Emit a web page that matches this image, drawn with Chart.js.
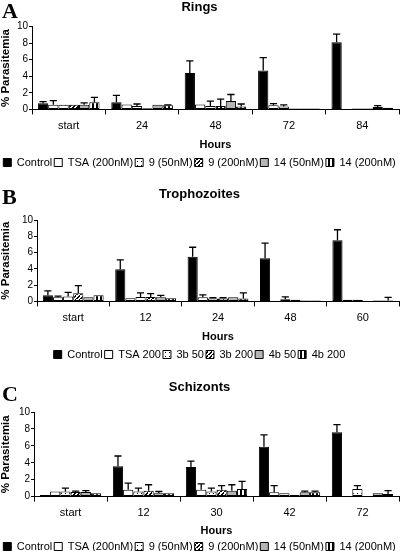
<!DOCTYPE html>
<html>
<head>
<meta charset="utf-8">
<title>Parasitemia</title>
<script src="https://cdn.jsdelivr.net/npm/chart.js@4.4.0/dist/chart.umd.min.js"></script>
<style>
  html, body { margin: 0; padding: 0; background: #fff; overflow: hidden; }
  #wrap { position: relative; width: 400px; height: 551px; }
  .panel { position: absolute; left: 0; width: 400px; }
  .letter { position: absolute; left: 2px; font-family: "Liberation Serif", "Times New Roman", serif;
            font-weight: bold; font-size: 22px; line-height: 1; color: #000; }
</style>
</head>
<body>
<div id="wrap">
  <div class="panel" style="top:0px"><canvas id="chartA" width="400" height="178"></canvas></div>
  <div class="panel" style="top:187px"><canvas id="chartB" width="400" height="183"></canvas></div>
  <div class="panel" style="top:380px"><canvas id="chartC" width="400" height="182"></canvas></div>
  <div class="letter" style="top:0px">A</div>
  <div class="letter" style="top:186px">B</div>
  <div class="letter" style="top:383px">C</div>
</div>
<script>
// --- Panel A: Rings ---
const ringHours = ['start', '24', '48', '72', '84'];
const ringNames = ['Control', 'TSA (200nM)', '9 (50nM)', '9 (200nM)', '14 (50nM)', '14 (200nM)'];
const ringControl = [0.75, 0.85, 4.4, 4.7, 8.1];
const ringTSA     = [0.55, 0.6, 0.6, 0.5, 0.05];
const ring9lo     = [0.55, 0.4, 0.4, 0.35, 0.1];
const ring9hi     = [0.55, 0.15, 0.4, 0.1, 0.1];
const ring14lo    = [0.55, 0.55, 1.0, 0.1, 0.3];
const ring14hi    = [0.85, 0.5, 0.35, 0.1, 0.2];
const ringControlErr = [0.2, 0.85, 1.45, 1.55, 1.0];
const ringTSAErr     = [0.5, 0, 0, 0.2, 0];
const ring9loErr     = [0, 0.25, 0.6, 0.2, 0];
const ring9hiErr     = [0, 0, 0.85, 0, 0];
const ring14loErr    = [0.25, 0, 0.8, 0, 0.15];
const ring14hiErr    = [0.6, 0.05, 0.3, 0, 0];

// --- Panel B: Trophozoites ---
const trophHours = ['start', '12', '24', '48', '60'];
const trophNames = ['Control', 'TSA 200', '3b 50', '3b 200', '4b 50', '4b 200'];
const trophControl = [0.75, 3.95, 5.5, 5.3, 7.5];
const trophTSA     = [0.5, 0.4, 0.5, 0.05, 0.2];
const troph3blo    = [0.6, 0.55, 0.35, 0.25, 0.2];
const troph3bhi    = [1.0, 0.55, 0.35, 0.2, 0.05];
const troph4blo    = [0.5, 0.5, 0.5, 0.1, 0.1];
const troph4bhi    = [0.75, 0.4, 0.35, 0.1, 0.1];
const trophControlErr = [0.55, 1.15, 1.15, 1.85, 1.3];
const trophTSAErr     = [0.15, 0, 0.3, 0, 0];
const troph3bloErr    = [0.5, 0.5, 0.1, 0.3, 0];
const troph3bhiErr    = [0.95, 0.4, 0.1, 0, 0];
const troph4bloErr    = [0, 0.25, 0, 0, 0];
const troph4bhiErr    = [0, 0, 0.7, 0, 0.4];

// --- Panel C: Schizonts ---
const schizHours = ['start', '12', '30', '42', '72'];
const schizNames = ['Control', 'TSA (200nM)', '9 (50nM)', '9 (200nM)', '14 (50nM)', '14 (200nM)'];
const schizControl = [0.2, 3.6, 3.5, 5.9, 7.6];
const schizTSA     = [0.6, 0.8, 0.8, 0.5, 0.05];
const schiz9lo     = [0.6, 0.6, 0.6, 0.4, 0.9];
const schiz9hi     = [0.55, 0.7, 0.8, 0.2, 0.05];
const schiz14lo    = [0.55, 0.4, 0.7, 0.5, 0.4];
const schiz14hi    = [0.4, 0.4, 0.9, 0.5, 0.3];
const schizControlErr = [0, 1.2, 0.7, 1.4, 0.9];
const schizTSAErr     = [0, 0.8, 0.7, 0.8, 0];
const schiz9loErr     = [0.4, 0.4, 0.4, 0, 0.4];
const schiz9hiErr     = [0.1, 0.7, 0.5, 0, 0];
const schiz14loErr    = [0.15, 0.2, 0.7, 0.15, 0];
const schiz14hiErr    = [0, 0, 0.9, 0.15, 0.4];

Chart.defaults.font.family = '"Liberation Sans", Arial, sans-serif';
Chart.defaults.color = '#000';
Chart.defaults.animation = false;

function makePattern(kind) {
  const c = document.createElement('canvas');
  c.width = 4; c.height = 4;
  const g = c.getContext('2d');
  g.fillStyle = '#fff';
  g.fillRect(0, 0, 4, 4);
  g.fillStyle = '#000';
  if (kind === 'dots') {
    g.fillRect(1, 1, 1, 1);
  } else if (kind === 'diag') {
    for (let i = 0; i < 4; i++) g.fillRect(i, 3 - i, 2, 1);
  } else if (kind === 'vert') {
    g.fillRect(0, 0, 2, 4);
  }
  return g.createPattern(c, 'repeat');
}

const fills = ['#000', '#fff', makePattern('dots'), makePattern('diag'), '#b4b4b4', makePattern('vert')];

// draws one-sided (upward) error bars on top of each bar
const errorBars = {
  id: 'errorBars',
  afterDatasetsDraw(chart) {
    const ctx = chart.ctx;
    const yScale = chart.scales.y;
    ctx.save();
    ctx.strokeStyle = '#000';
    ctx.lineWidth = 1.3;
    chart.data.datasets.forEach((ds, i) => {
      chart.getDatasetMeta(i).data.forEach((bar, j) => {
        const e = ds.errors[j];
        if (!e) return;
        const top = yScale.getPixelForValue(ds.data[j] + e);
        const cap = bar.width * 0.35;
        ctx.beginPath();
        ctx.moveTo(bar.x, bar.y);
        ctx.lineTo(bar.x, top);
        ctx.moveTo(bar.x - cap, top);
        ctx.lineTo(bar.x + cap, top);
        ctx.stroke();
      });
    });
    ctx.restore();
  }
};

function makePanel(id, title, hours, names, series, errors, opt) {
  const datasets = series.map((s, i) => ({
    label: names[i],
    data: s,
    errors: errors[i],
    backgroundColor: fills[i],
    borderColor: '#000',
    borderWidth: 1,
    borderSkipped: false,
    categoryPercentage: 0.84,
    barPercentage: 1.0
  }));
  return new Chart(document.getElementById(id), {
    type: 'bar',
    data: { labels: hours, datasets: datasets },
    plugins: [errorBars],
    options: {
      responsive: false,
      layout: { padding: { left: 0, right: 1, top: 0, bottom: 0 } },
      plugins: {
        title: {
          display: true,
          text: title,
          font: { size: 13, weight: 'bold' },
          padding: { top: 0, bottom: opt.titleGap }
        },
        legend: {
          position: 'bottom',
          labels: { boxWidth: 8, boxHeight: 8, padding: 2, font: { size: 11 } }
        },
        tooltip: { enabled: false }
      },
      scales: {
        x: {
          border: { color: '#000', width: 1 },
          grid: { display: true, drawOnChartArea: false, tickLength: 5, color: '#000', offset: true },
          ticks: { padding: 5, font: { size: 11 } },
          title: {
            display: true,
            text: 'Hours',
            font: { size: 11, weight: 'bold' },
            padding: { top: opt.hoursGap, bottom: opt.hoursBottom }
          }
        },
        y: {
          min: 0,
          max: 10,
          border: { color: '#000', width: 1 },
          grid: { drawOnChartArea: false, tickLength: 3, color: '#000' },
          ticks: { stepSize: 2, padding: 1, font: { size: 10 } },
          title: {
            display: true,
            text: '% Parasitemia',
            font: { size: 11.5, weight: 'bold', lineHeight: 1 },
            padding: { top: 0, bottom: opt.yGap }
          }
        }
      }
    }
  });
}

makePanel('chartA', 'Rings', ringHours, ringNames,
  [ringControl, ringTSA, ring9lo, ring9hi, ring14lo, ring14hi],
  [ringControlErr, ringTSAErr, ring9loErr, ring9hiErr, ring14loErr, ring14hiErr],
  { titleGap: 11, hoursGap: 1.2, hoursBottom: 3, yGap: 4.4 });

makePanel('chartB', 'Trophozoites', trophHours, trophNames,
  [trophControl, trophTSA, troph3blo, troph3bhi, troph4blo, troph4bhi],
  [trophControlErr, trophTSAErr, troph3bloErr, troph3bhiErr, troph4bloErr, troph4bhiErr],
  { titleGap: 17.4, hoursGap: 1.2, hoursBottom: 3, yGap: 9.4 });

makePanel('chartC', 'Schizonts', schizHours, schizNames,
  [schizControl, schizTSA, schiz9lo, schiz9hi, schiz14lo, schiz14hi],
  [schizControlErr, schizTSAErr, schiz9loErr, schiz9hiErr, schiz14loErr, schiz14hiErr],
  { titleGap: 16.4, hoursGap: 0, hoursBottom: 1, yGap: 6.4 });
</script>
</body>
</html>
